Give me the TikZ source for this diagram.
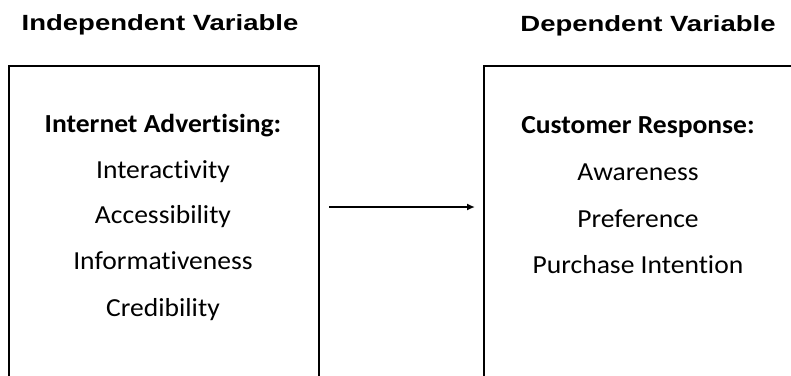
\documentclass[tikz,border=0pt]{standalone}
\usepackage{fontspec}
\setmainfont{Carlito}[FakeStretch=1.06, Ligatures=NoCommon]
\newfontfamily\headfont{Liberation Sans}[FakeStretch=1.25]
\usetikzlibrary{arrows.meta, positioning}

\tikzset{
  varbox/.style={draw=black, line width=2.5pt},
  heading/.style={font=\headfont\fontsize{22}{26}\selectfont\bfseries, anchor=base},
  grouptitle/.style={font=\fontsize{26}{30}\selectfont\bfseries, anchor=base},
  factor/.style={font=\fontsize{26}{30}\selectfont, anchor=base},
  link/.style={-{Latex[length=8pt, width=7pt]}, line width=2pt}
}

\begin{document}
\begin{tikzpicture}[x=1pt, y=-1pt]
  \useasboundingbox (0,0) rectangle (791,375);
  \clip (0,0) rectangle (791,375);
  % headings
  \node[heading] (indephead) at (160,30) {Independent Variable};
  \node[heading] (dephead) at (648,31) {Dependent Variable};
  % boxes (bottom and right edge run off the picture)
  \draw[varbox] (9,66) rectangle (319,400);
  \draw[varbox] (484,66) rectangle (810,400);
  % independent variable
  \node[grouptitle] (adhead) at (163,132) {Internet Advertising:};
  \node[factor] (interact) at (163,178) {Interactivity};
  \node[factor] (access) at (163,223) {Accessibility};
  \node[factor] (inform) at (163,269) {Informativeness};
  \node[factor] (cred) at (163,316) {Credibility};
  % dependent variable
  \node[grouptitle] (resphead) at (638,133) {Customer Response:};
  \node[factor] (aware) at (638,180) {Awareness};
  \node[factor] (pref) at (638,227) {Preference};
  \node[factor] (intent) at (638,273) {Purchase Intention};
  % effect arrow
  \coordinate (linkstart) at (329,207);
  \coordinate (linkend) at (475,207);
  \draw[link] (linkstart) -- (linkend);
\end{tikzpicture}
\end{document}
